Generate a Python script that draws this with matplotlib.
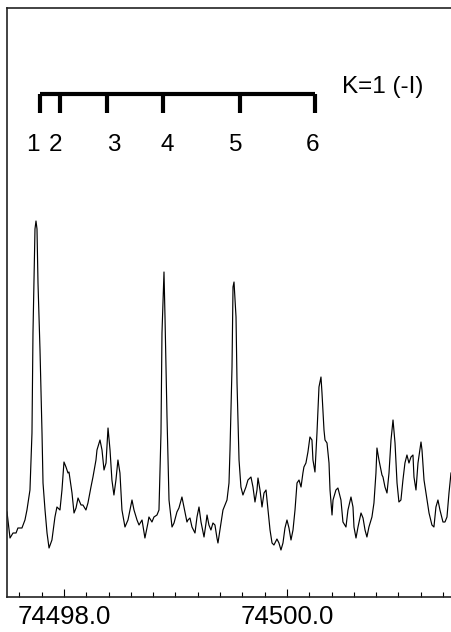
import numpy as np
import matplotlib
matplotlib.use("Agg")
import matplotlib.pyplot as plt
from matplotlib.ticker import MultipleLocator, FormatStrFormatter

plt.rcParams['font.family'] = ['Liberation Sans', 'DejaVu Sans']

# Spectrum (wavenumber in cm^-1, intensity in arbitrary units)
wavenumber = [
    74497.489, 74497.516, 74497.543, 74497.570, 74497.587, 74497.623, 74497.650, 74497.668,
    74497.695, 74497.713, 74497.722, 74497.740, 74497.749, 74497.758, 74497.767, 74497.785, 74497.803,
    74497.812, 74497.830, 74497.848, 74497.866, 74497.892, 74497.919, 74497.937, 74497.964,
    74497.982, 74498.000, 74498.018, 74498.036, 74498.045, 74498.072, 74498.090, 74498.108,
    74498.126, 74498.153, 74498.170, 74498.197, 74498.215, 74498.242, 74498.260, 74498.287,
    74498.296, 74498.323, 74498.341, 74498.359, 74498.377, 74498.395, 74498.413, 74498.430,
    74498.448, 74498.466, 74498.484, 74498.502, 74498.520, 74498.547, 74498.574, 74498.592,
    74498.610, 74498.628, 74498.655, 74498.673, 74498.700, 74498.717, 74498.726, 74498.753,
    74498.762, 74498.789, 74498.807, 74498.834, 74498.852, 74498.870, 74498.879, 74498.897,
    74498.906, 74498.924, 74498.942, 74498.969, 74498.987, 74499.013, 74499.031, 74499.058,
    74499.076, 74499.103, 74499.112, 74499.130, 74499.148, 74499.175, 74499.193, 74499.211,
    74499.229, 74499.256, 74499.274, 74499.283, 74499.300, 74499.318, 74499.336, 74499.354,
    74499.372, 74499.381, 74499.408, 74499.426, 74499.444, 74499.462, 74499.480, 74499.489,
    74499.507, 74499.516, 74499.525, 74499.543, 74499.552, 74499.570, 74499.587, 74499.605,
    74499.632, 74499.650, 74499.677, 74499.695, 74499.713, 74499.731, 74499.740, 74499.758,
    74499.776, 74499.794, 74499.812, 74499.830, 74499.848, 74499.866, 74499.883, 74499.910,
    74499.928, 74499.946, 74499.964, 74499.982, 74500.000, 74500.018, 74500.036, 74500.054,
    74500.072, 74500.090, 74500.108, 74500.126, 74500.143, 74500.152, 74500.170, 74500.188,
    74500.206, 74500.224, 74500.233, 74500.251, 74500.269, 74500.287, 74500.305, 74500.314,
    74500.332, 74500.341, 74500.359, 74500.377, 74500.386, 74500.404, 74500.413, 74500.439,
    74500.457, 74500.484, 74500.502, 74500.529, 74500.547, 74500.574, 74500.592, 74500.601,
    74500.619, 74500.637, 74500.664, 74500.682, 74500.700, 74500.717, 74500.735, 74500.762,
    74500.780, 74500.798, 74500.807, 74500.825, 74500.852, 74500.861, 74500.879, 74500.897,
    74500.915, 74500.933, 74500.951, 74500.969, 74500.987, 74501.004, 74501.022, 74501.040,
    74501.058, 74501.076, 74501.094, 74501.112, 74501.130, 74501.139, 74501.157, 74501.175,
    74501.202, 74501.211, 74501.229, 74501.256, 74501.274, 74501.300, 74501.318, 74501.336,
    74501.354, 74501.372, 74501.399, 74501.417, 74501.435, 74501.453, 74501.471,
]
intensity = [
    85, 59, 64, 64, 69, 69, 77, 87,
    107, 164, 264, 368, 376, 368, 314, 247, 164,
    114, 87, 64, 49, 57, 80, 90, 87,
    107, 135, 130, 124, 125, 104, 84, 89,
    99, 92, 92, 87, 94, 110, 120, 137,
    147, 157, 147, 127, 134, 169, 147, 117,
    102, 117, 137, 124, 87, 70, 77, 87,
    97, 87, 77, 72, 77, 65, 59, 74,
    80, 75, 80, 82, 87, 164, 264, 325,
    280, 180, 97, 70, 74, 85, 89, 100,
    90, 75, 77, 79, 70, 64, 80, 90,
    75, 60, 74, 82, 72, 67, 74, 72,
    59, 54, 74, 87, 92, 97, 114, 147,
    230, 310, 315, 280, 214, 137, 110, 102,
    110, 117, 120, 110, 95, 107, 119, 107,
    90, 104, 107, 87, 67, 54, 52, 58,
    54, 47, 54, 69, 77, 69, 57, 67,
    87, 114, 117, 110, 124, 130, 134, 145,
    160, 157, 137, 125, 164, 210, 220, 204,
    167, 157, 154, 134, 107, 82, 97, 107,
    109, 97, 75, 70, 87, 100, 90, 70,
    59, 70, 84, 79, 67, 60, 70, 80,
    94, 124, 149, 137, 122, 120, 110, 104,
    124, 157, 177, 154, 114, 95, 97, 117,
    134, 142, 134, 140, 142, 120, 107, 134,
    155, 147, 117, 97, 84, 72, 70, 90,
    97, 87, 75, 75, 80, 104, 124,
]

# Line assignment bar (K=1 (-I))
line_positions = [74497.785, 74497.964, 74498.386, 74498.888, 74499.578, 74500.251]
line_labels = ['1', '2', '3', '4', '5', '6']
label_positions = [74497.722, 74497.928, 74498.448, 74498.924, 74499.543, 74500.233]
series_label = 'K=1 (-I)'

fig = plt.figure(figsize=(4.51, 6.32), dpi=100)
ax = fig.add_axes([7/451, 1 - 597/632, 444/451, 589/632])

ax.plot(wavenumber, intensity, color='black', lw=0.85)

bar_y = 503
tick_bottom = 484
ax.hlines(bar_y, line_positions[0], line_positions[-1], color='black', lw=3.0)
ax.vlines(line_positions, tick_bottom, bar_y, color='black', lw=3.0)
for xp, lab in zip(label_positions, line_labels):
    ax.text(xp, 452, lab, ha='center', va='center', fontsize=17.5)
ax.text(74500.493, 510, series_label, ha='left', va='center', fontsize=17.5)

ax.set_xlim(74497.489, 74497.489 + 444/111.5)
ax.set_ylim(0, 589)
ax.xaxis.set_major_locator(MultipleLocator(2.0))
ax.xaxis.set_minor_locator(MultipleLocator(0.2))
ax.xaxis.set_major_formatter(FormatStrFormatter('%.1f'))
ax.tick_params(axis='x', which='major', direction='in', length=6, width=0.8, labelsize=18.5, pad=6)
ax.tick_params(axis='x', which='minor', direction='in', length=3.5, width=0.8)
ax.set_yticks([])
ax.spines['right'].set_visible(False)
for s in ['left', 'top', 'bottom']:
    ax.spines[s].set_linewidth(1.2)
    ax.spines[s].set_color('#222222')

fig.savefig('out.png', dpi=100)
